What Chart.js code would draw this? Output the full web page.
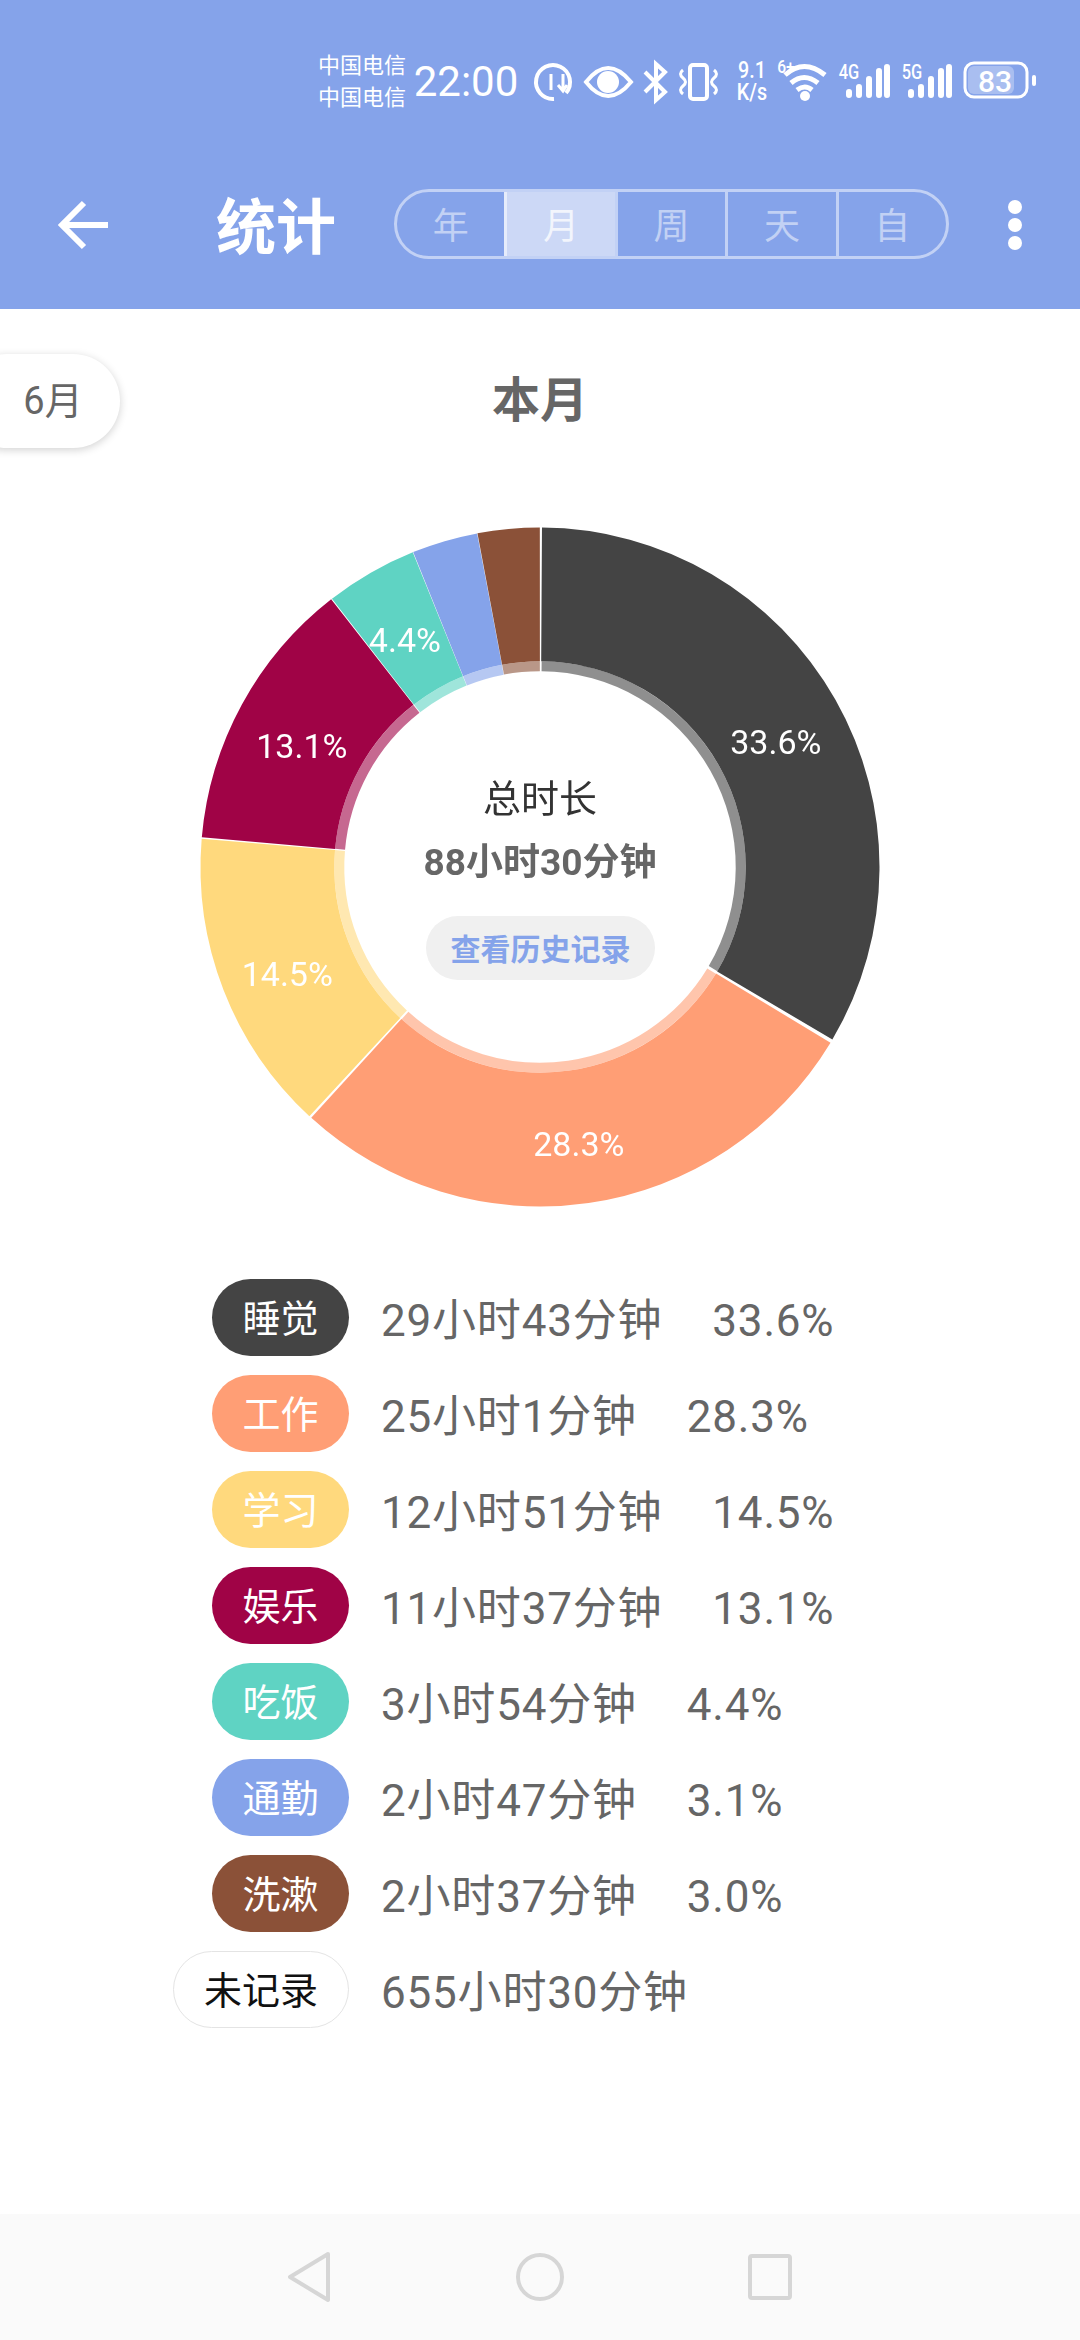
<!DOCTYPE html>
<html lang="zh">
<head>
<meta charset="utf-8">
<title>统计</title>
<script src="https://cdn.jsdelivr.net/npm/chart.js@4"></script>
<style>
  html,body{margin:0;padding:0;background:#fff;}
  body{width:1080px;height:2340px;position:relative;overflow:hidden;font-family:Roboto,"Noto Sans CJK SC",sans-serif;}
  .abs{position:absolute;white-space:nowrap;}
  .ctr{transform:translate(-50%,-50%);}
  #head{left:0;top:0;width:1080px;height:309px;background:#85A3EA;}
  #seg{left:394px;top:189px;width:555px;height:70px;box-sizing:border-box;border:3px solid rgba(255,255,255,.5);border-radius:35px;display:flex;overflow:hidden;}
  #seg div{flex:1;display:flex;align-items:center;justify-content:center;color:rgba(255,255,255,.5);font-size:36px;padding-bottom:3px;border-left:3px solid rgba(255,255,255,.5);}
  #seg div:first-child{border-left:none;}
  #seg div.on{background:rgba(255,255,255,.58);color:rgba(255,255,255,.75);}
  #monthPill{left:-40px;top:354px;width:160px;height:94px;border-radius:47px;background:#fff;box-shadow:0 2px 8px rgba(0,0,0,.18);}
  #donut{position:absolute;left:180px;top:507px;}
  .pill{position:absolute;left:212px;width:137px;height:77px;box-sizing:border-box;padding-bottom:5px;border-radius:39px;color:#fff;font-size:38px;display:flex;align-items:center;justify-content:center;}
  .pill.none{left:173px;width:176px;background:#fff;border:1.5px solid #e4e4e4;color:#111;}
  .row{position:absolute;left:381px;font-size:44px;letter-spacing:.8px;line-height:60px;color:#666;white-space:nowrap;}
  .row span{margin-left:50px;}
  .narrow{transform:translate(-50%,-50%) scaleX(.82);font-weight:500;color:#fff;}
</style>
</head>
<body>
<div id="head" class="abs"></div>

<!-- status bar -->
<div class="abs ctr" style="left:362px;top:63px;color:#fff;font-size:22px;">中国电信</div>
<div class="abs ctr" style="left:362px;top:95px;color:#fff;font-size:22px;">中国电信</div>
<div class="abs ctr" style="left:466px;top:81px;color:#fff;font-size:42px;">22:00</div>
<div class="abs narrow" style="left:752px;top:70px;font-size:24px;">9.1</div>
<div class="abs narrow" style="left:752px;top:92px;font-size:24px;">K/s</div>
<svg class="abs" style="left:0;top:0" width="1080" height="130" fill="none" stroke="#fff" stroke-width="3">
  <path d="M566 93a17 17 0 1 0-12 6" stroke-width="4"/>
  <path d="M551 74v16M563 74v16M558 85l5 6 4-6" stroke-width="3"/>
  <path d="M586 82q22-28 45 0q-23 28-45 0z" stroke-width="4"/>
  <circle cx="608" cy="82" r="11" fill="#fff" stroke="none"/>
  <path d="M645 72l20 20-9 8v-36l9 8-20 20" stroke-width="4"/>
  <rect x="690" y="65" width="17" height="34" rx="3" stroke-width="4"/>
  <path d="M683 70q-5 4 0 8q5 4 0 8q-5 4 0 8M714 70q5 4 0 8q-5 4 0 8q5 4 0 8" stroke-width="3"/>
  <path d="M785 75q19-17 40 0M791 83q13-11 27 0M797 90q8-6 15 0" stroke-width="5"/>
  <circle cx="805" cy="96" r="5" fill="#fff" stroke="none"/>
  <g stroke-width="6" stroke-linecap="round">
    <path d="M849 95v-3M859 95v-8M869 95v-16M879 95v-24M887 95v-28"/>
    <path d="M911 95v-3M921 95v-8M931 95v-16M941 95v-24M949 95v-28"/>
  </g>
  <rect x="965" y="63" width="62" height="34" rx="9" stroke-width="3"/>
  <rect x="968" y="66" width="46" height="28" rx="6" fill="rgba(255,255,255,.3)" stroke="none"/>
  <rect x="1032" y="75" width="4" height="11" rx="2" fill="#fff" stroke="none"/>
</svg>
<div class="abs narrow" style="left:786px;top:66px;font-size:19px;">6+</div>
<div class="abs narrow" style="left:849px;top:72px;font-size:20px;">4G</div>
<div class="abs narrow" style="left:912px;top:72px;font-size:20px;">5G</div>
<div class="abs ctr" style="left:995px;top:81px;color:#fff;font-size:30px;font-weight:500;">83</div>

<!-- app bar -->
<svg class="abs" style="left:0;top:180px" width="1080" height="90" fill="none" stroke="#fff" stroke-width="6">
  <path d="M108 45H63M84 23L62 45l22 22"/>
  <circle cx="1015" cy="27" r="7" fill="#fff" stroke="none"/>
  <circle cx="1015" cy="45" r="7" fill="#fff" stroke="none"/>
  <circle cx="1015" cy="63" r="7" fill="#fff" stroke="none"/>
</svg>
<div class="abs ctr" style="left:276px;top:222px;color:#fff;font-size:60px;font-weight:700;">统计</div>
<div id="seg" class="abs"></div>

<div id="monthPill" class="abs"></div>
<div class="abs ctr" style="left:53px;top:397px;color:#666;font-size:38px;">6月</div>
<div class="abs ctr" style="left:540px;top:396px;color:#666;font-size:48px;font-weight:700;">本月</div>

<canvas id="donut" width="720" height="720"></canvas>

<!-- centre of the ring -->
<div class="abs ctr" style="left:540px;top:795px;color:#333;font-size:38px;">总时长</div>
<div class="abs ctr" style="left:540px;top:859px;color:#666;font-size:37px;font-weight:700;">88小时30分钟</div>
<div class="abs" style="left:426px;top:916px;width:229px;height:64px;box-sizing:border-box;padding-bottom:3px;border-radius:32px;background:#F0F0F0;color:#85A3EA;font-size:30px;font-weight:700;display:flex;align-items:center;justify-content:center;">查看历史记录</div>

<div id="legendBox"></div>

<!-- android nav bar -->
<div class="abs" style="left:0;top:2214px;width:1080px;height:126px;background:#FAFAFA;"></div>
<svg class="abs" style="left:0;top:2240px" width="1080" height="80" fill="none" stroke="#d6d6d6" stroke-width="4" stroke-linejoin="round">
  <path d="M328 14L290 37l38 23z"/>
  <circle cx="540" cy="37" r="22"/>
  <rect x="750" y="16" width="40" height="42" rx="2"/>
</svg>

<script>
// values
const rangeTabs = ["年", "月", "周", "天", "自"];
const categories = ["睡觉", "工作", "学习", "娱乐", "吃饭", "通勤", "洗漱"];
const minutes = [1783, 1501, 771, 697, 234, 167, 157];
const durationLabels = ["29小时43分钟", "25小时1分钟", "12小时51分钟", "11小时37分钟", "3小时54分钟", "2小时47分钟", "2小时37分钟"];
const percentLabels = ["33.6%", "28.3%", "14.5%", "13.1%", "4.4%", "3.1%", "3.0%"];
const sliceLabels = ["33.6%", "28.3%", "14.5%", "13.1%", "4.4%", "", ""];
const sliceColors = ["#444444", "#FF9E75", "#FFD97D", "#A00346", "#5FD3C3", "#85A3EA", "#8B5138"];
const unrecordedLabel = "未记录";
const unrecordedTime = "655小时30分钟";

// range tabs
const seg = document.getElementById("seg");
rangeTabs.forEach((t, i) => {
  const d = document.createElement("div");
  d.textContent = t;
  if (i === 1) d.className = "on";
  seg.appendChild(d);
});

// legend rows
const legendBox = document.getElementById("legendBox");
const ROW_TOP = 1317, ROW_STEP = 96;
function addRow(i, label, color, text, pct) {
  const mid = ROW_TOP + i * ROW_STEP;
  const p = document.createElement("div");
  p.className = "pill" + (color ? "" : " none");
  p.style.top = (mid - 38) + "px";
  if (color) p.style.background = color;
  p.textContent = label;
  legendBox.appendChild(p);

  const r = document.createElement("div");
  r.className = "row";
  r.style.top = (mid - 26) + "px";
  r.textContent = text;
  if (pct) {
    const s = document.createElement("span");
    s.textContent = pct;
    r.appendChild(s);
  }
  legendBox.appendChild(r);
}
categories.forEach((c, i) => addRow(i, c, sliceColors[i], durationLabels[i], percentLabels[i]));
addRow(categories.length, unrecordedLabel, null, unrecordedTime, null);

// percent text inside the outer ring, a bit under the ring's middle like the app does
const sliceLabelPlugin = {
  id: "sliceLabels",
  afterDatasetsDraw(chart) {
    const { ctx } = chart;
    const arcs = chart.getDatasetMeta(0).data;
    ctx.save();
    ctx.fillStyle = "#fff";
    ctx.font = '34px Roboto, "Noto Sans CJK SC", sans-serif';
    ctx.textAlign = "center";
    ctx.textBaseline = "middle";
    arcs.forEach((arc, i) => {
      if (!sliceLabels[i]) return;
      const { x, y, startAngle, endAngle, innerRadius, outerRadius } = arc.getProps(["x", "y", "startAngle", "endAngle", "innerRadius", "outerRadius"], true);
      const a = (startAngle + endAngle) / 2;
      const r = (innerRadius + outerRadius) / 2;
      ctx.fillText(sliceLabels[i], x + Math.cos(a) * r, y + Math.sin(a) * r + 12);
    });
    ctx.restore();
  }
};

new Chart(document.getElementById("donut"), {
  type: "doughnut",
  data: {
    labels: categories,
    datasets: [
      { data: minutes, backgroundColor: sliceColors, borderWidth: 0, spacing: 3, weight: 134 },
      { data: minutes, backgroundColor: sliceColors.map(c => c + "99"), borderWidth: 0, spacing: 3, weight: 10 },
    ],
  },
  options: {
    responsive: false,
    animation: false,
    cutout: 206,
    radius: 338,
    layout: { padding: 0 },
    plugins: { legend: { display: false }, tooltip: { enabled: false } },
  },
  plugins: [sliceLabelPlugin],
});
</script>
</body>
</html>
